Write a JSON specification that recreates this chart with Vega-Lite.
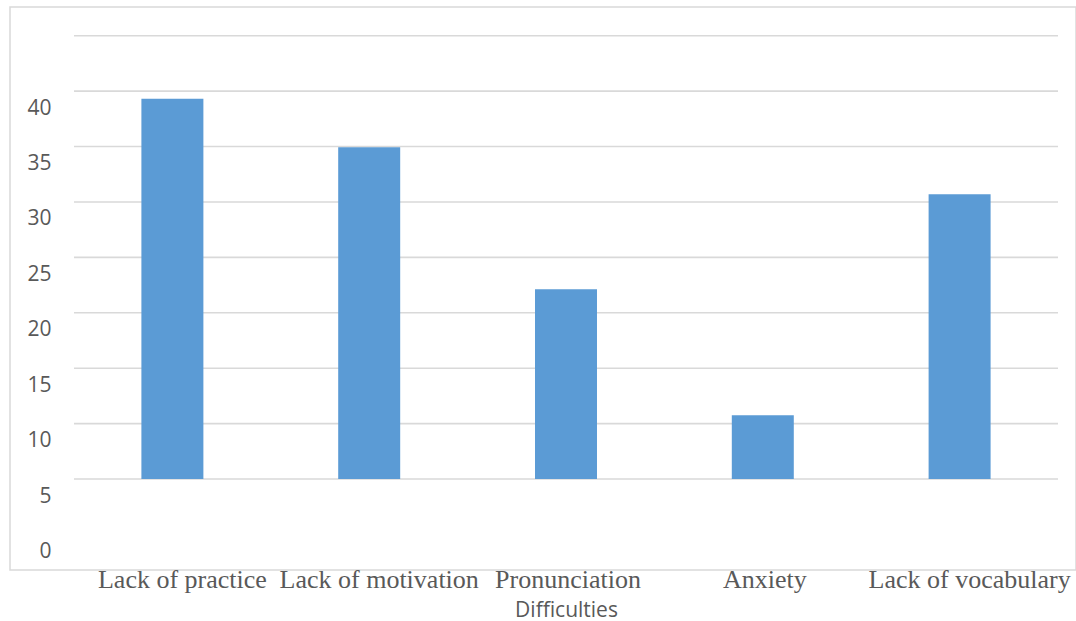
{
  "$schema": "https://vega.github.io/schema/vega-lite/v6.json",
  "width": 1066,
  "height": 563,
  "autosize": {"type": "none"},
  "padding": {"left": 10, "top": 7, "right": 0, "bottom": 51},
  "background": "white",
  "config": {"view": {"stroke": "#d9d9d9", "strokeWidth": 1.5}},
  "layer": [
    {
      "data": {"values": [{"g": 5}, {"g": 10}, {"g": 15}, {"g": 20}, {"g": 25}, {"g": 30}, {"g": 35}, {"g": 40}, {"g": 45}]},
      "mark": {"type": "rule", "color": "#d9d9d9", "strokeWidth": 1.6},
      "encoding": {
        "x": {"datum": 0, "type": "quantitative", "scale": {"domain": [-0.06504, 1.01829], "nice": false, "zero": false}, "axis": null},
        "x2": {"datum": 1},
        "y": {
          "field": "g", "type": "quantitative",
          "scale": {"domain": [-3.211, 47.59], "nice": false, "zero": false},
          "axis": {
            "values": [0, 5, 10, 15, 20, 25, 30, 35, 40],
            "domain": false, "ticks": false, "tickSize": 0, "grid": false,
            "labelPadding": -41, "labelAlign": "right", "labelBaseline": "middle", "labelOffset": 17,
            "labelFont": "Open Sans", "labelFontSize": 21, "labelColor": "#595959",
            "title": null
          }
        }
      }
    },
    {
      "data": {"values": [
        {"difficulty": "Lack of practice", "value": 39.3},
        {"difficulty": "Lack of motivation", "value": 34.93},
        {"difficulty": "Pronunciation", "value": 22.12},
        {"difficulty": "Anxiety", "value": 10.75},
        {"difficulty": "Lack of vocabulary", "value": 30.69}
      ]},
      "mark": {"type": "bar", "color": "#5b9bd5", "width": {"band": 0.315}},
      "encoding": {
        "x": {
          "field": "difficulty", "type": "nominal", "sort": null,
          "scale": {"paddingInner": 0, "paddingOuter": 0.2083, "align": 0.7805},
          "title": "Difficulties",
          "axis": {
            "domain": false, "ticks": false, "tickSize": 0, "grid": false,
            "labelAngle": 0, "labelPadding": 17, "labelBaseline": "alphabetic",
            "labelFont": "Liberation Serif", "labelFontSize": 26, "labelColor": "#595959",
            "labelOverlap": false, "labelLimit": 400,
            "labelOffset": {"condition": {"test": "indexof(datum.value, 'Lack') === 0", "value": 10}, "value": 2},
            "titleFont": "Open Sans", "titleFontSize": 21, "titleFontWeight": "normal", "titleColor": "#595959",
            "titleX": 556, "titleY": 46, "titleBaseline": "alphabetic", "titleAlign": "center"
          }
        },
        "y": {
          "field": "value", "type": "quantitative",
          "scale": {"domain": [-3.211, 47.59], "nice": false, "zero": false},
          "axis": {
            "values": [0, 5, 10, 15, 20, 25, 30, 35, 40],
            "domain": false, "ticks": false, "tickSize": 0, "grid": false,
            "labelPadding": -41, "labelAlign": "right", "labelBaseline": "middle", "labelOffset": 17,
            "labelFont": "Open Sans", "labelFontSize": 21, "labelColor": "#595959",
            "title": null
          }
        },
        "y2": {"datum": 5}
      }
    }
  ],
  "resolve": {"scale": {"x": "independent"}}
}
